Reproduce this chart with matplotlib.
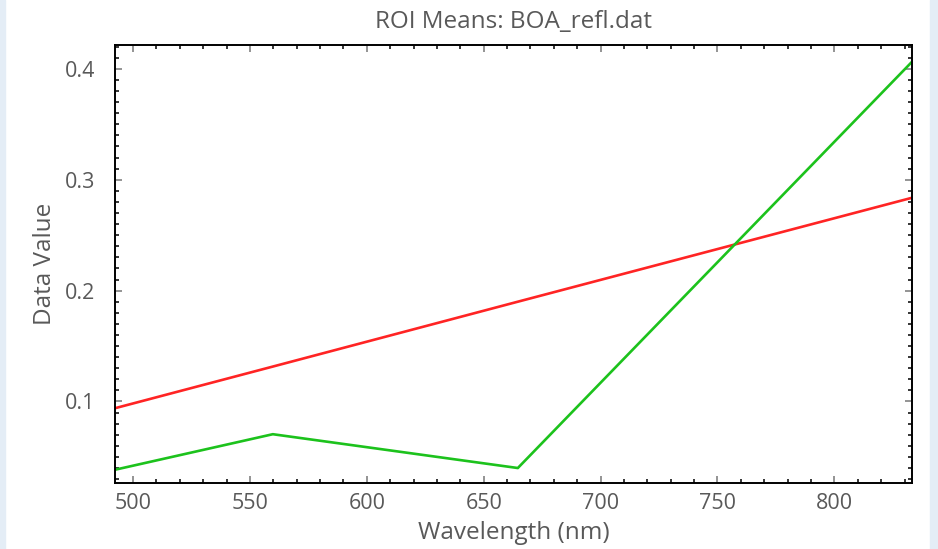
import matplotlib
matplotlib.use("agg")
import matplotlib.pyplot as plt
from matplotlib.ticker import MultipleLocator
from matplotlib.patches import Rectangle

# band centres (nm) and ROI mean reflectances
wavelength = [492.4, 559.8, 664.6, 832.8]
roi_red = [0.094, 0.1315, 0.190, 0.2835]
roi_green = [0.0385, 0.0705, 0.040, 0.4055]

xticks = [500, 550, 600, 650, 700, 750, 800]
yticks = [0.1, 0.2, 0.3, 0.4]

plt.rcParams['font.family'] = ['Open Sans', 'DejaVu Sans']

fig = plt.figure(figsize=(9.38, 5.49), dpi=100)
# light blue panel strips at the edges
fig.patches.append(Rectangle((0, 0), 5/938, 1, transform=fig.transFigure,
                             color='#e4edf6', zorder=0))
fig.patches.append(Rectangle((930/938, 0), 8/938, 1, transform=fig.transFigure,
                             color='#e4edf6', zorder=0))

ax = fig.add_axes([115/938, 1-483/549, 797/938, 438/549])
ax.plot(wavelength, roi_red, color='#ff2424', lw=1.9)
ax.plot(wavelength, roi_green, color='#1cc21c', lw=1.9)

ax.set_xlim(492.3, 833.2)
ax.set_ylim(0.0265, 0.4215)
ax.set_xticks(xticks)
ax.set_yticks(yticks)
ax.set_xticklabels([str(v) for v in xticks])
ax.set_yticklabels([str(v) for v in yticks])
ax.xaxis.set_minor_locator(MultipleLocator(10))
ax.yaxis.set_minor_locator(MultipleLocator(0.01))
ax.tick_params(which='both', direction='in', top=True, right=True,
               labelsize=15.5, labelcolor='#595959', width=1.1)
ax.tick_params(which='major', length=5, color='#777777')
ax.tick_params(which='minor', length=3, color='black')
ax.tick_params(axis='x', which='major', pad=7)
ax.tick_params(axis='y', which='major', pad=14)
for s in ax.spines.values():
    s.set_linewidth(1.4)

ax.set_title('ROI Means: BOA_refl.dat', fontsize=17.5, color='#595959', pad=12)
ax.set_xlabel('Wavelength (nm)', fontsize=17.5, color='#595959', labelpad=5)
ax.set_ylabel('Data Value', fontsize=17.5, color='#595959', labelpad=6)

fig.savefig('out.png', dpi=100)
